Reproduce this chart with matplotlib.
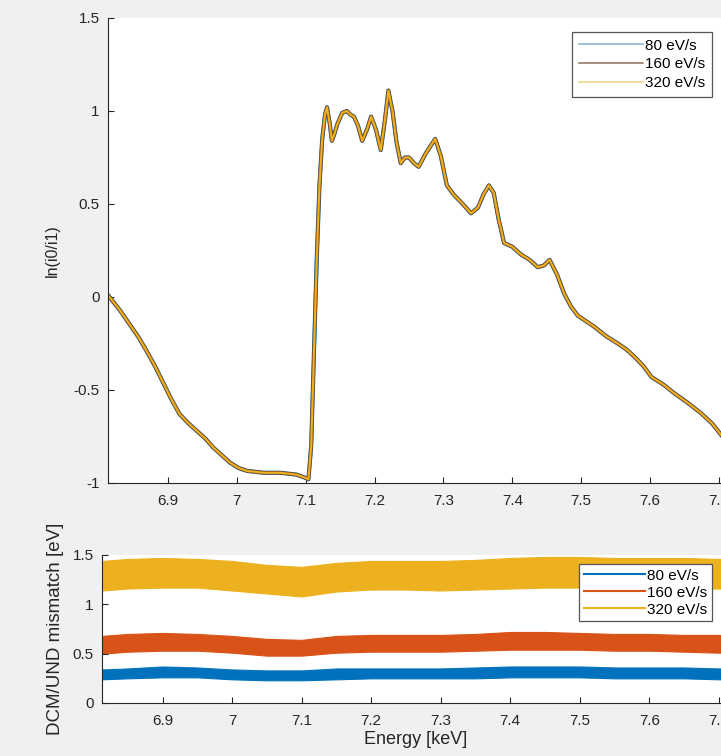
import matplotlib
matplotlib.use("Agg")
import matplotlib.pyplot as plt
from matplotlib.lines import Line2D

plt.rcParams['font.family'] = ['Liberation Sans', 'DejaVu Sans']

# ---------------- data ----------------
energy = [6.813, 6.830, 6.845, 6.858, 6.869, 6.881, 6.893, 6.905, 6.917, 6.930,
          6.942, 6.954, 6.966, 6.978, 6.990, 7.003, 7.015, 7.027, 7.039, 7.051,
          7.063, 7.075, 7.087, 7.098, 7.104, 7.108, 7.112, 7.116, 7.120, 7.124,
          7.128, 7.131, 7.135, 7.138, 7.142, 7.146, 7.153, 7.160, 7.165, 7.170,
          7.176, 7.182, 7.189, 7.195, 7.202, 7.209, 7.215, 7.220, 7.226, 7.232,
          7.238, 7.244, 7.250, 7.257, 7.264, 7.274, 7.281, 7.288, 7.296, 7.305,
          7.315, 7.328, 7.340, 7.350, 7.358, 7.366, 7.373, 7.380, 7.388, 7.400,
          7.412, 7.425, 7.437, 7.446, 7.454, 7.465, 7.475, 7.485, 7.495, 7.507,
          7.519, 7.536, 7.553, 7.565, 7.577, 7.590, 7.602, 7.619, 7.636, 7.655,
          7.674, 7.690, 7.705, 7.716]
ln_80 = [0.01, -0.07, -0.15, -0.22, -0.29, -0.37, -0.46, -0.55, -0.63, -0.68,
         -0.72, -0.76, -0.81, -0.85, -0.89, -0.92, -0.935, -0.94, -0.945, -0.945,
         -0.945, -0.95, -0.955, -0.97, -0.98, -0.80, -0.30, 0.20, 0.60, 0.85,
         0.98, 1.02, 0.93, 0.84, 0.88, 0.93, 0.99, 1.00, 0.98, 0.97,
         0.92, 0.84, 0.90, 0.97, 0.90, 0.79, 0.95, 1.11, 1.00, 0.83,
         0.72, 0.75, 0.75, 0.72, 0.70, 0.77, 0.81, 0.85, 0.76, 0.60,
         0.55, 0.50, 0.45, 0.48, 0.55, 0.60, 0.56, 0.42, 0.29, 0.27,
         0.23, 0.20, 0.16, 0.17, 0.20, 0.12, 0.02, -0.05, -0.10, -0.13,
         -0.16, -0.21, -0.25, -0.28, -0.32, -0.37, -0.43, -0.47, -0.52, -0.57,
         -0.625, -0.68, -0.75, -0.79]
ln_160 = ln_80
ln_320 = ln_80

series_labels = ['80 eV/s', '160 eV/s', '320 eV/s']

env_energy = [6.813, 6.85, 6.90, 6.95, 7.00, 7.05, 7.10, 7.15, 7.20, 7.25,
              7.30, 7.35, 7.40, 7.45, 7.50, 7.55, 7.60, 7.65, 7.70, 7.716]
mis_80_low = [0.24, 0.25, 0.26, 0.26, 0.24, 0.23, 0.23, 0.24, 0.25, 0.25,
              0.25, 0.25, 0.26, 0.26, 0.26, 0.25, 0.25, 0.25, 0.24, 0.24]
mis_80_high = [0.34, 0.35, 0.37, 0.36, 0.34, 0.33, 0.33, 0.35, 0.35, 0.35,
               0.35, 0.36, 0.37, 0.37, 0.37, 0.36, 0.36, 0.36, 0.35, 0.35]
mis_160_low = [0.50, 0.52, 0.53, 0.53, 0.51, 0.48, 0.48, 0.51, 0.52, 0.52,
               0.52, 0.53, 0.54, 0.54, 0.54, 0.53, 0.53, 0.52, 0.51, 0.51]
mis_160_high = [0.68, 0.70, 0.71, 0.70, 0.68, 0.65, 0.64, 0.68, 0.69, 0.69,
                0.69, 0.70, 0.72, 0.72, 0.71, 0.70, 0.70, 0.69, 0.69, 0.68]
mis_320_low = [1.14, 1.16, 1.17, 1.17, 1.14, 1.11, 1.08, 1.13, 1.15, 1.15,
               1.14, 1.15, 1.16, 1.17, 1.17, 1.17, 1.16, 1.16, 1.16, 1.16]
mis_320_high = [1.44, 1.46, 1.47, 1.46, 1.44, 1.40, 1.38, 1.42, 1.44, 1.44,
                1.44, 1.45, 1.47, 1.48, 1.48, 1.47, 1.47, 1.47, 1.46, 1.46]

x_ticks = [6.9, 7.0, 7.1, 7.2, 7.3, 7.4, 7.5, 7.6, 7.7]
x_tick_labels = ['6.9', '7', '7.1', '7.2', '7.3', '7.4', '7.5', '7.6', '7.7']
top_y_ticks = [-1, -0.5, 0, 0.5, 1, 1.5]
top_y_tick_labels = ['-1', '-0.5', '0', '0.5', '1', '1.5']
bot_y_ticks = [0, 0.5, 1, 1.5]
bot_y_tick_labels = ['0', '0.5', '1', '1.5']

# ---------------- figure ----------------
W, H = 721, 756
fig = plt.figure(figsize=(W / 100, H / 100), dpi=100, facecolor='#f0f0f0')

def frac(l, t, r, b):
    return [l / W, 1 - b / H, (r - l) / W, (b - t) / H]

ax1 = fig.add_axes(frac(108, 18, 730, 483))
ax2 = fig.add_axes(frac(102, 555, 730, 703))

txt = '#262626'
for ax in (ax1, ax2):
    ax.set_facecolor('white')
    for s in ('top', 'right'):
        ax.spines[s].set_visible(False)
    for s in ('left', 'bottom'):
        ax.spines[s].set_color(txt)
        ax.spines[s].set_linewidth(0.8)
    ax.tick_params(direction='in', length=4, width=0.8, colors=txt,
                   labelsize=11, labelcolor=txt)
    ax.tick_params(axis='x', pad=8)
    ax.tick_params(axis='y', pad=6)
    ax.set_xlim(6.813, 7.716)
    ax.set_xticks(x_ticks)
    ax.set_xticklabels(x_tick_labels)

# top panel
top_colors = ['#0072BD', '#8a4a1a', '#EDB120']
top_widths = [3.0, 2.6, 1.5]
for ys, c, lw, lab in zip([ln_80, ln_160, ln_320], top_colors, top_widths, series_labels):
    ax1.plot(energy, ys, color=c, lw=lw, label=lab, solid_joinstyle='round')
ax1.set_ylim(-1, 1.5)
ax1.set_yticks(top_y_ticks)
ax1.set_yticklabels(top_y_tick_labels)
ax1.set_ylabel('ln(i0/i1)', fontsize=11.5, color=txt, labelpad=10)

leg_top_colors = ['#8ab8d0', '#9a7a6a', '#f0d890']
leg1 = ax1.legend(handles=[Line2D([], [], color=c, lw=1.2) for c in leg_top_colors],
                  labels=series_labels, loc='upper right',
                  bbox_to_anchor=(0.971, 0.970), borderaxespad=0,
                  fontsize=11, handlelength=4.2, handletextpad=0.15,
                  labelspacing=0.3, borderpad=0.45, fancybox=False,
                  framealpha=1, edgecolor='#555555')
leg1.get_frame().set_linewidth(0.9)

# bottom panel
bot_colors = ['#0072BD', '#D95319', '#EDB120']
for lo, hi, c in zip([mis_80_low, mis_160_low, mis_320_low],
                     [mis_80_high, mis_160_high, mis_320_high], bot_colors):
    ax2.fill_between(env_energy, lo, hi, color=c, lw=0.8, edgecolor=c)
ax2.set_ylim(0, 1.5)
ax2.set_yticks(bot_y_ticks)
ax2.set_yticklabels(bot_y_tick_labels)
ax2.set_ylabel('DCM/UND mismatch [eV]', fontsize=13.5, color=txt, labelpad=6)
ax2.set_xlabel('Energy [keV]', fontsize=13, color=txt, labelpad=2)

leg2 = ax2.legend(handles=[Line2D([], [], color=c, lw=1.5) for c in bot_colors],
                  labels=series_labels, loc='upper right',
                  bbox_to_anchor=(0.971, 0.939), borderaxespad=0,
                  fontsize=11, handlelength=4.0, handletextpad=0.15,
                  labelspacing=0.2, borderpad=0.3, fancybox=False,
                  framealpha=1, edgecolor='#555555')
leg2.get_frame().set_linewidth(0.9)

fig.savefig('out.png', dpi=100, facecolor=fig.get_facecolor())
